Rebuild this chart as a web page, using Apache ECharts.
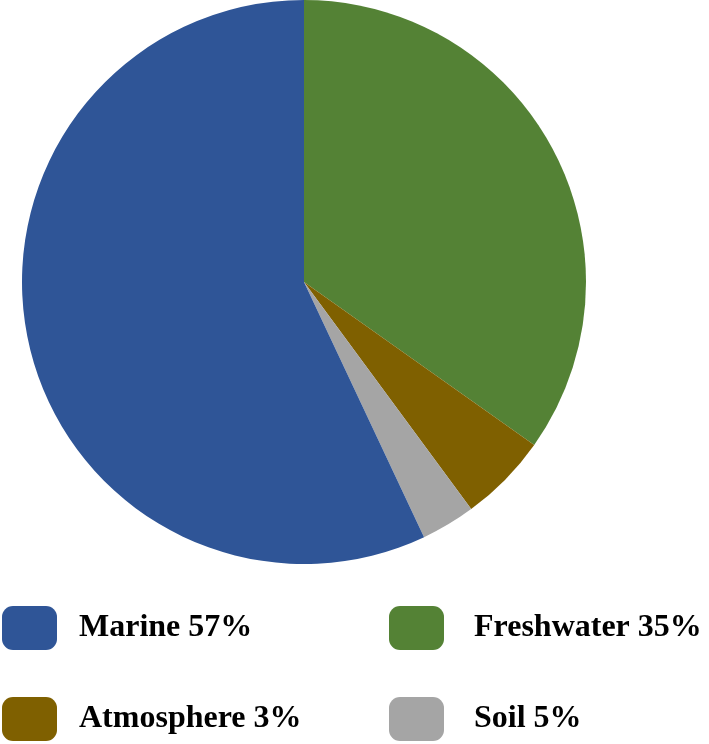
<!DOCTYPE html>
<html>
<head>
<meta charset="utf-8">
<script src="https://cdn.jsdelivr.net/npm/echarts@6/dist/echarts.min.js"></script>
<style>html,body{margin:0;padding:0;background:#fff}#c{width:709px;height:744px}</style>
</head>
<body>
<div id="c"></div>
<script>
// Slice order as drawn clockwise from 12 o'clock
const categories = ['Freshwater', 'Atmosphere', 'Soil', 'Marine'];
const values = [34.8, 5.1, 3.1, 57.0];          // angular shares
const legendLabels = {                            // legend text as printed
  Marine: 'Marine 57%',
  Freshwater: 'Freshwater 35%',
  Atmosphere: 'Atmosphere 3%',
  Soil: 'Soil 5%'
};
const colors = {Freshwater: '#548235', Atmosphere: '#7F6000', Soil: '#A5A5A5', Marine: '#2F5597'};

const chart = echarts.init(document.getElementById('c'), null, {renderer: 'canvas'});
function legendAt(name, left, top, gap) {
  return {
    data: [name], left: left, top: top, orient: 'horizontal',
    icon: 'roundRect', itemWidth: 55, itemHeight: 44, padding: 0,
    selectedMode: false,
    formatter: n => legendLabels[n],
    textStyle: {fontFamily: 'Liberation Serif', fontWeight: 'bold', fontSize: 32, color: '#000', padding: [0, 0, 0, gap]}
  };
}
chart.setOption({
  animation: false,
  legend: [
    legendAt('Marine', 2, 606, 17),
    legendAt('Freshwater', 389, 606, 25),
    legendAt('Atmosphere', 2, 697, 17),
    legendAt('Soil', 389, 697, 25)
  ],
  series: [{
    type: 'pie',
    center: [304, 282],
    radius: 282,
    startAngle: 90,
    clockwise: true,
    label: {show: false},
    labelLine: {show: false},
    emphasis: {disabled: true},
    itemStyle: {borderWidth: 0},
    data: categories.map((c, i) => ({name: c, value: values[i], itemStyle: {color: colors[c]}}))
  }]
});
</script>
</body>
</html>
